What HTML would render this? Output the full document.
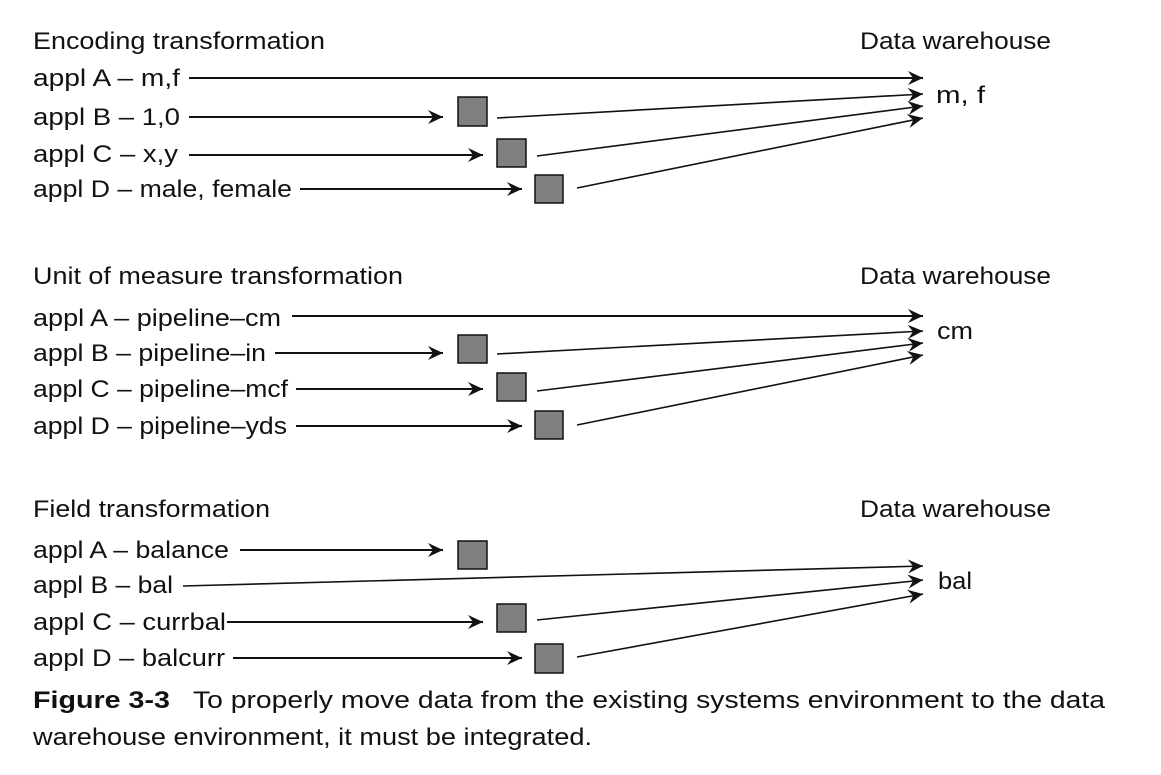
<!DOCTYPE html>
<html><head><meta charset="utf-8"><style>
html,body{margin:0;padding:0;background:#fff;}
svg{display:block;}
text{font-family:"Liberation Sans",sans-serif;font-size:24px;fill:#111;}
</style></head><body>
<svg width="1161" height="775" viewBox="0 0 1161 775" xmlns="http://www.w3.org/2000/svg">
<defs>
<marker id="a" markerWidth="16" markerHeight="14" refX="15" refY="7" orient="auto" markerUnits="userSpaceOnUse">
<path d="M0,0 L15,7 L0,14 L5,7 Z" fill="#111"/>
</marker>
</defs>
<g stroke="#111" stroke-width="2" fill="none" marker-end="url(#a)">
<line x1="189" y1="78" x2="923" y2="78"/>
<line x1="189" y1="117" x2="443" y2="117"/>
<line x1="189" y1="155" x2="483" y2="155"/>
<line x1="300" y1="189" x2="522" y2="189"/>
<line x1="497" y1="118" x2="923" y2="94" stroke-width="1.6"/>
<line x1="537" y1="156" x2="923" y2="106" stroke-width="1.6"/>
<line x1="577" y1="188" x2="923" y2="118" stroke-width="1.6"/>
<line x1="292" y1="316" x2="923" y2="316"/>
<line x1="275" y1="353" x2="443" y2="353"/>
<line x1="296" y1="389" x2="483" y2="389"/>
<line x1="296" y1="426" x2="522" y2="426"/>
<line x1="497" y1="354" x2="923" y2="331" stroke-width="1.6"/>
<line x1="537" y1="391" x2="923" y2="343" stroke-width="1.6"/>
<line x1="577" y1="425" x2="923" y2="355" stroke-width="1.6"/>
<line x1="240" y1="550" x2="443" y2="550"/>
<line x1="183" y1="586" x2="923" y2="566" stroke-width="1.6"/>
<line x1="227" y1="622" x2="483" y2="622"/>
<line x1="233" y1="658" x2="522" y2="658"/>
<line x1="537" y1="620" x2="923" y2="580" stroke-width="1.6"/>
<line x1="577" y1="657" x2="923" y2="594" stroke-width="1.6"/>
</g>
<g fill="#808080" stroke="#111" stroke-width="1.5">
<rect x="458" y="97" width="29" height="29"/>
<rect x="497" y="139" width="29" height="28"/>
<rect x="535" y="175" width="28" height="28"/>
<rect x="458" y="335" width="29" height="28"/>
<rect x="497" y="373" width="29" height="28"/>
<rect x="535" y="411" width="28" height="28"/>
<rect x="458" y="541" width="29" height="28"/>
<rect x="497" y="604" width="29" height="28"/>
<rect x="535" y="644" width="28" height="29"/>
</g>
<text x="33" y="49" textLength="292" lengthAdjust="spacingAndGlyphs">Encoding transformation</text>
<text x="860" y="49" textLength="191" lengthAdjust="spacingAndGlyphs">Data warehouse</text>
<text x="33" y="86" textLength="147" lengthAdjust="spacingAndGlyphs">appl A – m,f</text>
<text x="33" y="125" textLength="147" lengthAdjust="spacingAndGlyphs">appl B – 1,0</text>
<text x="33" y="162" textLength="145" lengthAdjust="spacingAndGlyphs">appl C – x,y</text>
<text x="33" y="197" textLength="259" lengthAdjust="spacingAndGlyphs">appl D – male, female</text>
<text x="936" y="103" textLength="49" lengthAdjust="spacingAndGlyphs">m, f</text>

<text x="33" y="284" textLength="370" lengthAdjust="spacingAndGlyphs">Unit of measure transformation</text>
<text x="860" y="284" textLength="191" lengthAdjust="spacingAndGlyphs">Data warehouse</text>
<text x="33" y="326" textLength="248" lengthAdjust="spacingAndGlyphs">appl A – pipeline–cm</text>
<text x="33" y="361" textLength="233" lengthAdjust="spacingAndGlyphs">appl B – pipeline–in</text>
<text x="33" y="397" textLength="255" lengthAdjust="spacingAndGlyphs">appl C – pipeline–mcf</text>
<text x="33" y="434" textLength="254" lengthAdjust="spacingAndGlyphs">appl D – pipeline–yds</text>
<text x="937" y="339" textLength="36" lengthAdjust="spacingAndGlyphs">cm</text>

<text x="33" y="517" textLength="237" lengthAdjust="spacingAndGlyphs">Field transformation</text>
<text x="860" y="517" textLength="191" lengthAdjust="spacingAndGlyphs">Data warehouse</text>
<text x="33" y="558" textLength="196" lengthAdjust="spacingAndGlyphs">appl A – balance</text>
<text x="33" y="593" textLength="140" lengthAdjust="spacingAndGlyphs">appl B – bal</text>
<text x="33" y="630" textLength="193" lengthAdjust="spacingAndGlyphs">appl C – currbal</text>
<text x="33" y="666" textLength="192" lengthAdjust="spacingAndGlyphs">appl D – balcurr</text>
<text x="938" y="589" textLength="34" lengthAdjust="spacingAndGlyphs">bal</text>

<text x="33" y="708" style="font-weight:bold;font-size:24px" textLength="137" lengthAdjust="spacingAndGlyphs">Figure 3-3</text>
<text x="193" y="708" style="font-size:24px" textLength="912" lengthAdjust="spacingAndGlyphs">To properly move data from the existing systems environment to the data</text>
<text x="33" y="745" style="font-size:24px" textLength="559" lengthAdjust="spacingAndGlyphs">warehouse environment, it must be integrated.</text>
</svg>
</body></html>
